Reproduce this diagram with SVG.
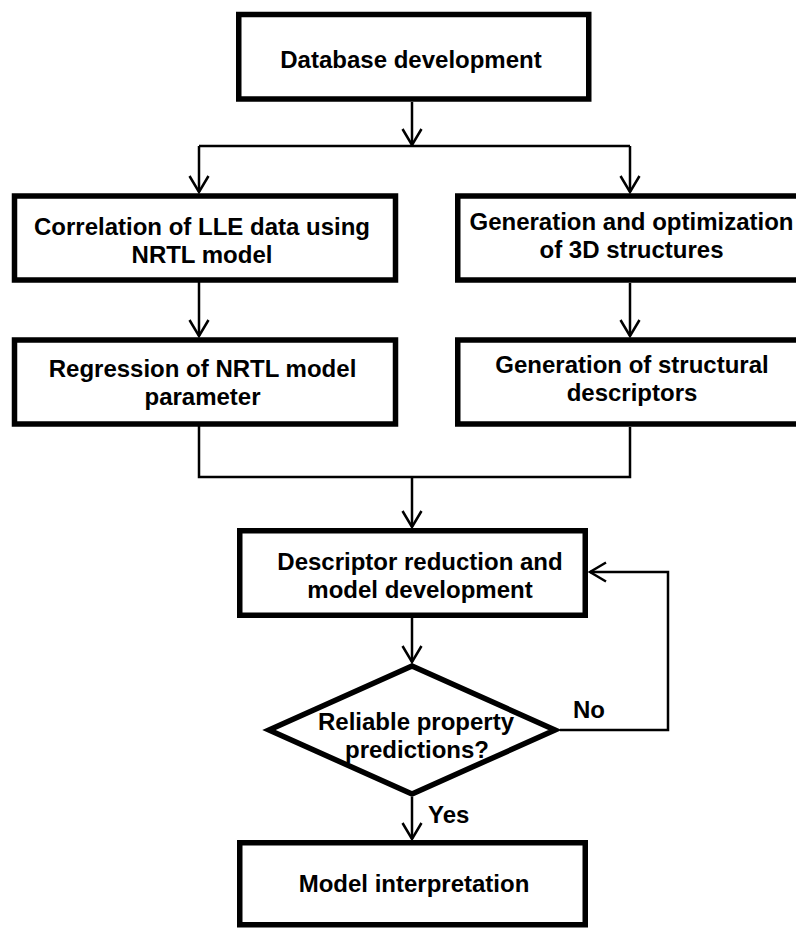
<svg xmlns="http://www.w3.org/2000/svg" width="796" height="928" viewBox="0 0 796 928">
<style>
.box{fill:#fff;stroke:#000;stroke-width:5.5}
.t{font-family:"Liberation Sans",Arial,sans-serif;font-weight:bold;font-size:24px;fill:#000;text-anchor:middle}
.l{font-family:"Liberation Sans",Arial,sans-serif;font-weight:bold;font-size:24px;fill:#000}
.c{fill:none;stroke:#000;stroke-width:2.5}
</style>
<defs>
<marker id="arr" markerUnits="userSpaceOnUse" viewBox="-20 -12 22 24" refX="0" refY="0" markerWidth="22" markerHeight="24" orient="auto">
<path d="M-16,-9.5 L0,0 L-16,9.5" fill="none" stroke="#000" stroke-width="2.5"/>
</marker>
</defs>
<rect width="796" height="928" fill="#fff"/>
<g id="connectors">
<path class="c" d="M412,102 V145" marker-end="url(#arr)"/>
<path class="c" d="M199,146 H630"/>
<path class="c" d="M199,146 V192" marker-end="url(#arr)"/>
<path class="c" d="M630,146 V192" marker-end="url(#arr)"/>
<path class="c" d="M199,282 V336" marker-end="url(#arr)"/>
<path class="c" d="M630,283 V336" marker-end="url(#arr)"/>
<path class="c" d="M199,426 V477 H630 V427"/>
<path class="c" d="M412,477 V527" marker-end="url(#arr)"/>
<path class="c" d="M412,618 V662" marker-end="url(#arr)"/>
<path class="c" d="M412,797 V839" marker-end="url(#arr)"/>
<path class="c" d="M560,730 H668 V572 H590" marker-end="url(#arr)"/>
</g>
<g id="n-database">
<rect class="box" x="238.75" y="14.5" width="350" height="84.5"/>
<text class="t" x="411" y="68">Database development</text>
</g>
<g id="n-correlation">
<rect class="box" x="14.5" y="196" width="381" height="84"/>
<text class="t" x="202" y="235">Correlation of LLE data using</text>
<text class="t" x="202" y="263">NRTL model</text>
</g>
<g id="n-regression">
<rect class="box" x="14.5" y="340" width="381" height="84"/>
<text class="t" x="202.5" y="377">Regression of NRTL model</text>
<text class="t" x="202.5" y="405">parameter</text>
</g>
<g id="n-generation3d">
<rect class="box" x="457.75" y="196" width="350" height="84"/>
<text class="t" x="631.5" y="230">Generation and optimization</text>
<text class="t" x="631.5" y="258">of 3D structures</text>
</g>
<g id="n-descriptors">
<rect class="box" x="457.75" y="340" width="350" height="84"/>
<text class="t" x="632" y="373">Generation of structural</text>
<text class="t" x="632" y="401">descriptors</text>
</g>
<g id="n-reduction">
<rect class="box" x="239.75" y="530.75" width="345.5" height="84.5"/>
<text class="t" x="420" y="570">Descriptor reduction and</text>
<text class="t" x="420" y="598">model development</text>
</g>
<g id="n-decision">
<polygon class="box" points="412,666 555,730 412,794 269,730"/>
<text class="t" x="416" y="730">Reliable property</text>
<text class="t" x="417" y="758">predictions?</text>
</g>
<g id="n-interpretation">
<rect class="box" x="239.75" y="842.75" width="345.5" height="82"/>
<text class="t" x="414" y="892">Model interpretation</text>
</g>
<g id="labels">
<text class="l" x="573" y="718">No</text>
<text class="l" x="428" y="823">Yes</text>
</g>
</svg>
